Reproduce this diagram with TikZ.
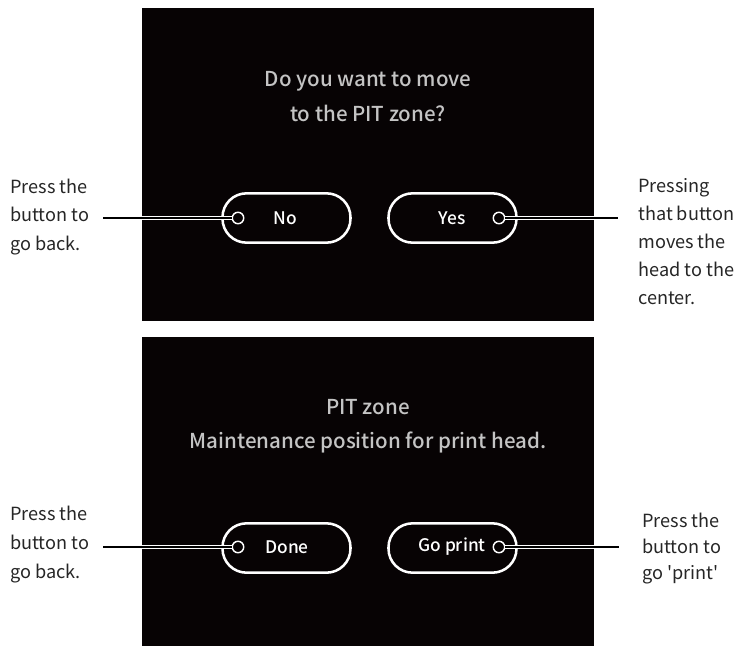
\documentclass[tikz,border=0pt]{standalone}
\usepackage{fontspec}
\setmainfont{Noto Sans CJK JP}[Ligatures=TeXOff]
\newfontfamily\medfont{Noto Sans CJK JP Medium}[Ligatures=TeXOff]
\begin{document}
\begin{tikzpicture}[x=0.75pt,y=-0.75pt,
  panel/.style={fill=scr,draw=none},
  btn/.style={draw=white,line width=1.9pt,fill=scr,rounded corners=18pt,minimum width=96pt,minimum height=37pt,inner sep=0pt},
  btntext/.style={text=white,font=\medfont\fontsize{13}{15}\selectfont},
  scrtext/.style={text=scrgray,font=\medfont\fontsize{15.4}{25.8}\selectfont,align=center},
  label/.style={text=black!85,font=\fontsize{13.6}{21.5}\selectfont,align=left,anchor=west,inner sep=0pt},
  dot/.style={circle,draw=white,fill=scr,line width=1.1pt,minimum size=8.6pt,inner sep=0pt},
  leadcase/.style={white,line width=2.6pt},
  lead/.style={black,line width=0.9pt}]
\definecolor{scr}{HTML}{070304}
\definecolor{scrgray}{HTML}{C4C4C4}
\useasboundingbox (0,0) rectangle (737,646);
\fill[white] (0,0) rectangle (737,646);
% panels
\fill[panel] (142,8) rectangle (594,321);
\fill[panel] (142,337) rectangle (594,646);
% top screen
\node[scrtext] (q) at (368,96.5) {Do you want to move\\to the PIT zone?};
\node[btn] (no) at (286.5,218) {};
\node[btn] (yes) at (452.5,218) {};
\node[btntext] (notx) at (285,218) {No};
\node[btntext] (yestx) at (452,218) {Yes};
\node[dot] (d1) at (238,218) {};
\node[dot] (d2) at (499,218) {};
\coordinate (e1) at (103,218);
\coordinate (e2) at (618,218);
% bottom screen
\node[scrtext] (p) at (368,426.5) {PIT zone\\Maintenance position for print head.};
\node[btn] (done) at (286.5,548) {};
\node[btn] (go) at (452.5,548) {};
\node[btntext] (donetx) at (287,547) {Done};
\node[btntext] (gotx) at (452,547) {Go print};
\node[dot] (d3) at (238,547) {};
\node[dot] (d4) at (499,547) {};
\coordinate (e3) at (103,547);
\coordinate (e4) at (619,547);
% leaders
\draw[leadcase] (142,218) -- (d1.west);
\draw[leadcase] (d2.east) -- (594,218);
\draw[leadcase] (142,547) -- (d3.west);
\draw[leadcase] (d4.east) -- (594,547);
\draw[lead] (e1) -- (d1.west);
\draw[lead] (d2.east) -- (e2);
\draw[lead] (e3) -- (d3.west);
\draw[lead] (d4.east) -- (e4);
% labels
\node[label] (l1) at (10,217) {Press the\\button to\\go back.};
\node[label,font=\fontsize{13.6}{21}\selectfont] (l2) at (638,241.5) {Pressing\\that button\\moves the\\head to the\\center.};
\node[label] (l3) at (10,544.5) {Press the\\button to\\go back.};
\node[label,font=\fontsize{13.6}{19.5}\selectfont] (l4) at (642,549) {Press the\\button to\\go 'print'};
\end{tikzpicture}
\end{document}
